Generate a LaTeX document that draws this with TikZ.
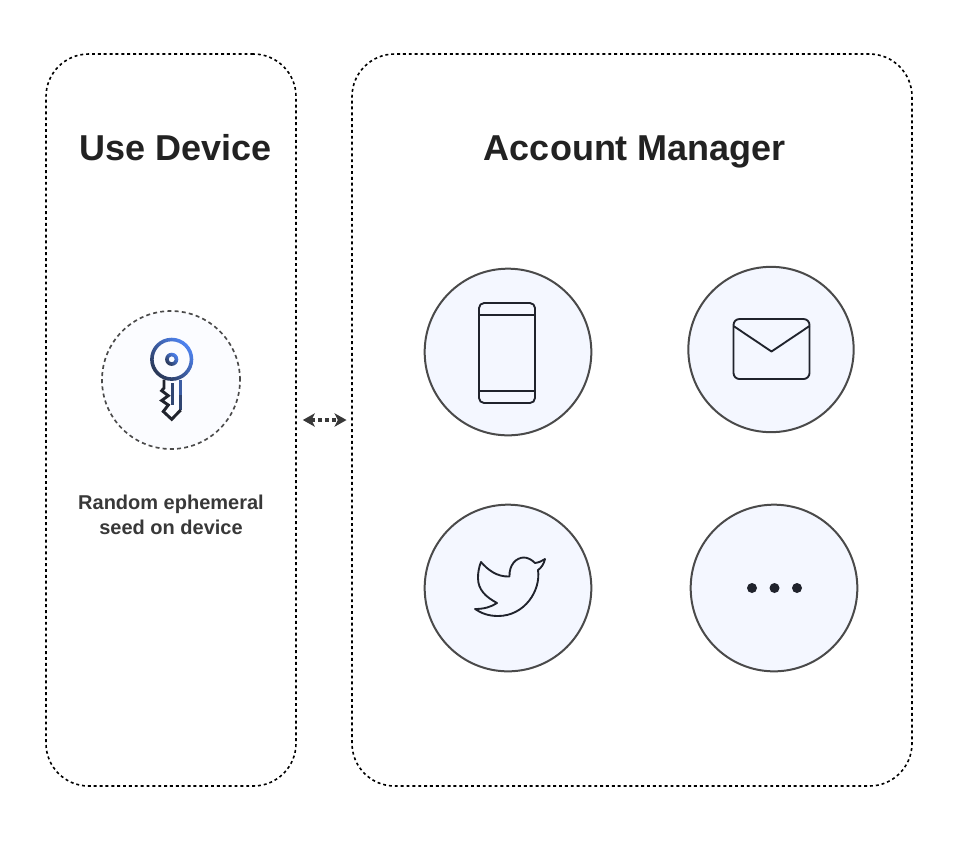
\documentclass[tikz,border=0pt]{standalone}
\usepackage{fontspec}
\setmainfont{Liberation Sans}
\usetikzlibrary{arrows.meta,positioning,calc}
\definecolor{inkdark}{HTML}{222222}
\definecolor{ringgray}{HTML}{4A4A4A}
\definecolor{softblue}{HTML}{F4F7FF}
\definecolor{paleblue}{HTML}{FBFCFF}
\definecolor{keyblue}{HTML}{4F84F2}
\definecolor{keydark}{HTML}{20232C}

\begin{document}
\begin{tikzpicture}[
    x=0.75pt, y=-0.75pt,
    panel/.style={draw=black, line width=1.2pt, rounded corners=32pt, dash pattern=on 2.2pt off 2.2pt},
    title/.style={font=\bfseries\fontsize{27}{30}\selectfont, text=inkdark, anchor=base},
    caption/.style={font=\bfseries\fontsize{15}{18.75}\selectfont, text=inkdark!90, align=center},
    badge/.style={circle, draw=ringgray, line width=1.5pt, fill=softblue, minimum size=125pt, inner sep=0pt},
    keybadge/.style={circle, draw=ringgray, line width=1.25pt, fill=paleblue, minimum size=103.5pt, inner sep=0pt, dash pattern=on 3pt off 2.4pt},
    icon/.style={draw=keydark, line width=1.4pt, line join=round},
    keyring/.style={even odd rule, top color=keyblue, middle color=keyblue!88!keydark, bottom color=keydark!80!keyblue, shading angle=-45},
    keyline/.style={line width=2.2pt, line join=miter},
    link/.style={{Stealth[length=9pt,width=10pt,inset=2.5pt]}-{Stealth[length=9pt,width=10pt,inset=2.5pt]}, draw=inkdark!90, line width=2.3pt, dash pattern=on 3pt off 2.4pt}
  ]
    \useasboundingbox (0,0) rectangle (960,840);

    \node[panel, minimum width=187.5pt, minimum height=549pt] (usedevice) at (171,420) {};
    \node[panel, minimum width=420pt, minimum height=549pt] (manager) at (632,420) {};
    \node[title] (usetitle) at (175.5,160.5) {Use Device};
    \node[title] (managertitle) at (635,160.5) {Account Manager};

    \draw[link, shorten <=4.5pt, shorten >=3.5pt] (usedevice.east) -- (manager.west);

    \node[keybadge] (keycircle) at (171,380) {};
    \shade[keyring] (171.7,359.3) circle (21.6) (171.7,359.3) circle (18);
    \shade[keyring] (171.7,359.3) circle (6.6) (171.7,359.3) circle (3);
    \draw[keyline, keyblue!60!keydark] (180.7,379.5) -- (180.7,395);
    \draw[keyline, keyblue!35!keydark] (180.7,395) -- (180.7,410);
    \draw[keyline, keydark] (180.7,410) -- (171.7,419.3) -- (163.3,411.5) -- (168.3,405) -- (161.7,400.5) -- (168.3,395.7) -- (161.7,390.7) -- (164,388) -- (164,379.5);
    \draw[keyline, keyblue!35!keydark] (172.3,383) -- (172.3,405);
    \node[caption, below=83pt of keycircle.center] (seedtext) {Random ephemeral\\seed on device};

    \node[badge] (phone) at (508,352) {};
    \node[badge, minimum size=124pt] (mail) at (771,349.5) {};
    \node[badge] (twitter) at (508,588) {};
    \node[badge] (more) at (774,588) {};

    \draw[icon, rounded corners=3.8pt] (479,303) rectangle (535,403);
    \draw[icon] (479,315) -- (535,315);
    \draw[icon] (479,391) -- (535,391);

    \draw[icon, rounded corners=4.5pt] (733.5,319) rectangle (809.5,379);
    \draw[icon] (733.5,326) -- (771.5,351.5) -- (809.5,326);

    \draw[icon] (481,562) .. controls (488,570) and (497,577) .. (509.5,576.5)
      .. controls (509,565) and (516,557.5) .. (524,557.5)
      .. controls (528,557.5) and (532,560) .. (535,563)
      .. controls (539,562.5) and (542,561) .. (545,559)
      .. controls (544,564) and (541,568) .. (538,570)
      .. controls (541,590) and (525,616) .. (498,616)
      .. controls (488,616) and (481,613) .. (475,609)
      .. controls (484,609) and (491,607) .. (497,603)
      .. controls (486,597) and (478,590) .. (478,578)
      .. controls (478,572) and (479,567) .. (481,562) -- cycle;

    \foreach \dotx in {752,774.5,797}
      \fill[keydark] (\dotx,588) circle (5);
  \end{tikzpicture}
\end{document}
